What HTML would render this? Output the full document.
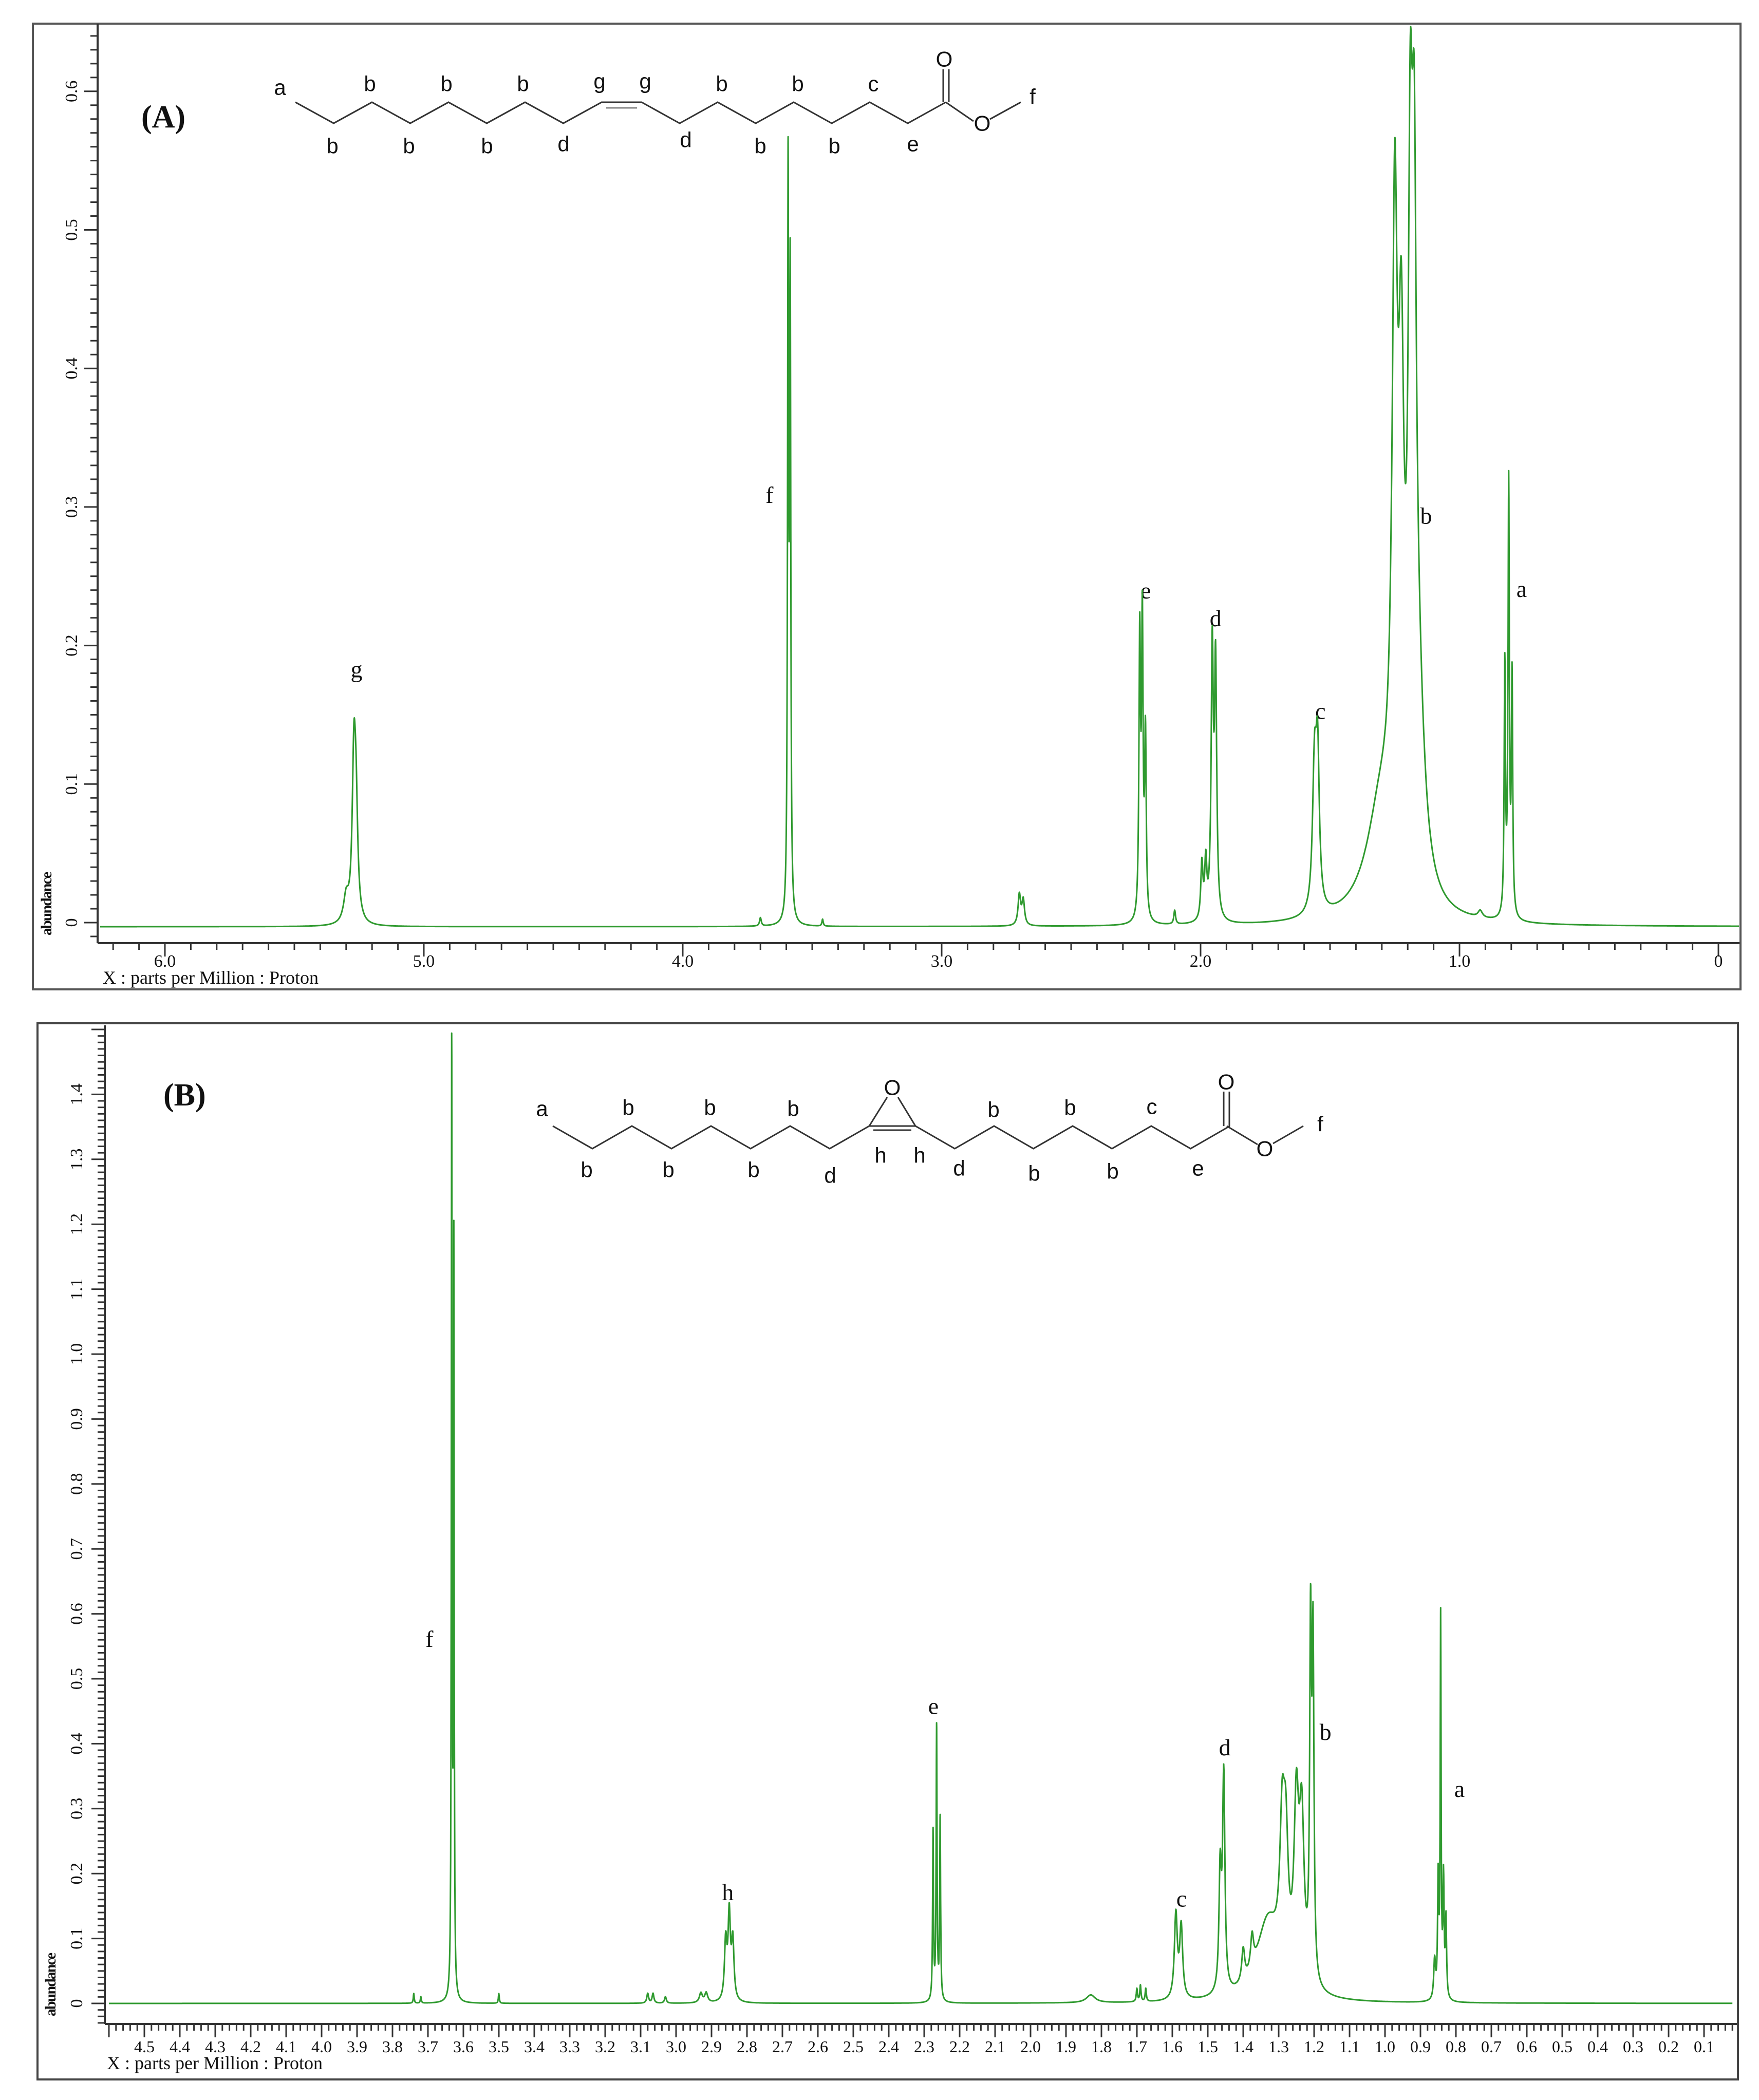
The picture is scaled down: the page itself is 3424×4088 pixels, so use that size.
<!DOCTYPE html>
<html><head><meta charset="utf-8"><style>
html,body{margin:0;padding:0;background:#fff;}
svg{display:block;}
.ser{font-family:"Liberation Serif",serif;fill:#111;}
.san{font-family:"Liberation Sans",sans-serif;fill:#111;}
</style></head><body>
<svg id="root" width="3424" height="4088" viewBox="0 0 3424 4088" xmlns="http://www.w3.org/2000/svg">
<rect x="0" y="0" width="3424" height="4088" fill="#fff"/>
<rect x="64" y="46" width="3324" height="1880" fill="none" stroke="#555" stroke-width="4"/>
<rect x="73" y="1992" width="3310" height="2056" fill="none" stroke="#444" stroke-width="4"/>
<text x="275" y="248" class="ser" font-size="62" font-weight="bold">(A)</text>
<text x="318" y="2152" class="ser" font-size="62" font-weight="bold">(B)</text>
<g id="axA"></g>
<g id="axB"></g>
<g id="structA"></g>
<g id="structB"></g>
<g id="specA"></g>
<g id="specB"></g>
</svg>
<script>
// ---- Panel A data (ppm, height, half-width) ----
const peaksA_ppm = [5.30,5.27,5.262, 3.70,3.593,3.585, 3.46, 2.70,2.685, 2.235,2.225,2.213, 2.10, 1.995,1.98,1.955,1.942, 1.56,1.548, 1.30,1.25,1.225,1.19,1.175,1.16, 0.92, 0.825,0.81,0.797];
const peaksA_h   = [0.018,0.11,0.07, 0.006,0.53,0.45, 0.005, 0.022,0.018, 0.20,0.21,0.13, 0.01, 0.04,0.04,0.19,0.18, 0.10,0.105, 0.08,0.43,0.30,0.40,0.36,0.12, 0.005, 0.18,0.31,0.17];
const peaksA_w   = [0.012,0.008,0.008, 0.004,0.0025,0.0025, 0.003, 0.006,0.006, 0.0035,0.0035,0.0035, 0.004, 0.005,0.005,0.005,0.005, 0.009,0.008, 0.07,0.012,0.012,0.01,0.01,0.03, 0.01, 0.003,0.003,0.003];
const ticksA_x = [6.0,5.0,4.0,3.0,2.0,1.0,0];
const ticksA_xlabels = ["6.0","5.0","4.0","3.0","2.0","1.0","0"];
const ticksA_y = [0,0.1,0.2,0.3,0.4,0.5,0.6];
const ticksA_ylabels = ["0","0.1","0.2","0.3","0.4","0.5","0.6"];
const labelsA_text = ["g","f","e","d","c","b","a"];
const labelsA_ppm  = [5.26,3.665,2.212,1.942,1.537,1.129,0.760];
const labelsA_val  = [0.177,0.303,0.234,0.214,0.147,0.288,0.235];

// ---- Panel B data ----
const peaksB_ppm = [3.74,3.72, 3.633,3.627, 3.50, 3.08,3.065,3.03, 2.93,2.915, 2.86,2.85,2.84, 2.275,2.265,2.255, 1.83, 1.70,1.69,1.675, 1.59,1.575, 1.465,1.455, 1.40,1.375, 1.33,1.29,1.28,1.25,1.235,1.21,1.203, 0.86,0.85,0.843,0.835,0.828];
const peaksB_h   = [0.015,0.01, 1.45,1.15, 0.015, 0.015,0.015,0.01, 0.015,0.015, 0.09,0.13,0.09, 0.26,0.42,0.28, 0.012, 0.02,0.025,0.02, 0.13,0.11, 0.18,0.33, 0.05,0.05, 0.12,0.20,0.18,0.26,0.24,0.52,0.50, 0.06,0.18,0.58,0.18,0.12];
const peaksB_w   = [0.0015,0.0015, 0.0012,0.0012, 0.0015, 0.003,0.003,0.003, 0.005,0.005, 0.004,0.004,0.004, 0.0015,0.0015,0.0015, 0.015, 0.002,0.002,0.002, 0.005,0.005, 0.004,0.004, 0.005,0.005, 0.04,0.008,0.008,0.008,0.008,0.003,0.003, 0.003,0.002,0.0015,0.002,0.002];
const ticksB_x = [4.5,4.4,4.3,4.2,4.1,4.0,3.9,3.8,3.7,3.6,3.5,3.4,3.3,3.2,3.1,3.0,2.9,2.8,2.7,2.6,2.5,2.4,2.3,2.2,2.1,2.0,1.9,1.8,1.7,1.6,1.5,1.4,1.3,1.2,1.1,1.0,0.9,0.8,0.7,0.6,0.5,0.4,0.3,0.2,0.1];
const ticksB_y = [0,0.1,0.2,0.3,0.4,0.5,0.6,0.7,0.8,0.9,1.0,1.1,1.2,1.3,1.4];
const labelsB_text = ["f","e","h","c","d","b","a"];
const labelsB_ppm  = [3.696,2.274,2.854,1.574,1.452,1.168,0.790];
const labelsB_val  = [0.549,0.446,0.159,0.149,0.382,0.406,0.318];

const NS="http://www.w3.org/2000/svg";
function mk(tag,attrs,parent){const e=document.createElementNS(NS,tag);for(const k in attrs)e.setAttribute(k,attrs[k]);parent.appendChild(e);return e;}

const xA = p => 321 + (6 - p) * 504;
const yA = v => 1796 - v * 2697;
const xB = p => 281 + (4.5 - p) * 690;
const yB = v => 3900 - v * 1264;

function drawSpectrum(g, ppm, h, w, xf, yf, pLeft, pRight, base){
  let xs=[];
  for(let p=pLeft;p>=pRight;p-=0.0008) xs.push(p);
  ppm.forEach(c=>xs.push(c));
  xs.sort((a,b)=>b-a);
  let d="";
  xs.forEach((p,i)=>{
    let s=base;
    for(let k=0;k<ppm.length;k++){const t=(p-ppm[k])/w[k];s+=h[k]/(1+t*t);}
    d+=(i?"L":"M")+xf(p).toFixed(1)+" "+yf(s).toFixed(1);
  });
  const path=mk("path",{d:d,fill:"none",stroke:"#2f9a2f","stroke-width":"3","stroke-linejoin":"round"},g);
  
  
}

function drawAxes(g, cfg){
  mk("line",{x1:cfg.ax,y1:cfg.yTop,x2:cfg.ax,y2:cfg.ay,stroke:"#333","stroke-width":"4"},g);
  mk("line",{x1:cfg.ax,y1:cfg.ay,x2:cfg.xEnd,y2:cfg.ay,stroke:"#333","stroke-width":"4"},g);
  for(let v=cfg.yMinV;v<=cfg.yMaxV+1e-9;v+=cfg.yMinor){
    const y=cfg.yf(v); if(y<cfg.yTop||y>cfg.ay) continue;
    const major=Math.abs(v/0.1-Math.round(v/0.1))<1e-6;
    mk("line",{x1:cfg.ax-(major?26:14),y1:y,x2:cfg.ax,y2:y,stroke:"#333","stroke-width":"3"},g);
  }
  cfg.yt.forEach((v,i)=>{
    const y=cfg.yf(v);
    const t=mk("text",{x:0,y:0,transform:`translate(${cfg.ylx},${y}) rotate(-90)`,"text-anchor":"middle",class:"ser","font-size":"34"},g);
    t.textContent=cfg.ytl[i];
    
    
  });
  for(let p=cfg.pL;p>=cfg.pR-1e-9;p-=cfg.xMinor){
    const x=cfg.xf(p); if(x<cfg.ax||x>cfg.xEnd) continue;
    const major=Math.abs(p/cfg.xMajor-Math.round(p/cfg.xMajor))<1e-6;
    mk("line",{x1:x,y1:cfg.ay,x2:x,y2:cfg.ay+(major?26:13),stroke:"#333","stroke-width":"3"},g);
  }
  cfg.xt.forEach((p,i)=>{
    const t=mk("text",{x:cfg.xf(p),y:cfg.xly,"text-anchor":"middle",class:"ser","font-size":cfg.xfs},g);
    t.textContent=cfg.xtl[i];
    
    
  });
  const xt=mk("text",{x:cfg.ttx,y:cfg.tty,class:"ser","font-size":"36"},g);
  xt.textContent="X : parts per Million : Proton";
  
  
  const yt=mk("text",{x:0,y:0,transform:`translate(${cfg.abx},${cfg.aby}) rotate(-90)`,"text-anchor":"middle",class:"ser","font-size":"30","font-weight":"bold","letter-spacing":"-2"},g);
  yt.textContent="abundance";
  
  
}

function drawPeakLabels(g, txt, ppm, val, xf, yf){
  txt.forEach((s,i)=>{
    const t=mk("text",{x:xf(ppm[i]),y:yf(val[i]),"text-anchor":"middle",class:"ser","font-size":"46"},g);
    t.textContent=s;
    
    
  });
}

const gA=document.getElementById("axA"), gB=document.getElementById("axB");
drawAxes(gA,{ax:190,ay:1836,yTop:46,xEnd:3386,yf:yA,xf:xA,yMinV:-0.03,yMaxV:0.66,yMinor:0.01,yt:ticksA_y,ytl:ticksA_ylabels,ylx:150,
  pL:6.2,pR:-0.1,xMinor:0.1,xMajor:1.0,xt:ticksA_x,xtl:ticksA_xlabels,xly:1882,xfs:34,ttx:200,tty:1915,abx:100,aby:1760});
drawAxes(gB,{ax:204,ay:3940,yTop:1996,xEnd:3381,yf:yB,xf:xB,yMinV:-0.03,yMaxV:1.5,yMinor:0.01,yt:ticksB_y,ytl:ticksB_y.map(v=>v===0?"0":v.toFixed(1)),ylx:160,
  pL:4.6,pR:0.0,xMinor:0.02,xMajor:0.1,xt:ticksB_x,xtl:ticksB_x.map(v=>v.toFixed(1)),xly:3995,xfs:32,ttx:208,tty:4028,abx:108,aby:3864});

drawSpectrum(document.getElementById("specA"),peaksA_ppm,peaksA_h,peaksA_w,xA,yA,6.25,-0.08,-0.003);
drawSpectrum(document.getElementById("specB"),peaksB_ppm,peaksB_h,peaksB_w,xB,yB,4.6,0.02,0.0);
drawPeakLabels(gA,labelsA_text,labelsA_ppm,labelsA_val,xA,yA);
drawPeakLabels(gB,labelsB_text,labelsB_ppm,labelsB_val,xB,yB);

function drawStruct(g, pts, extras, labels){
  let d="M"+pts.map(p=>p.join(" ")).join("L");
  mk("path",{d:d,fill:"none",stroke:"#333","stroke-width":"3"},g);
  extras.forEach(e=>mk("line",{x1:e[0],y1:e[1],x2:e[2],y2:e[3],stroke:e[4]||"#333","stroke-width":"3"},g));
  labels.forEach(l=>{
    const t=mk("text",{x:l[1],y:l[2],"text-anchor":"middle","dominant-baseline":"central",class:"san","font-size":"42"},g);
    t.textContent=l[0];
    
    
  });
}
(function(){
  const T=199,B=240,pts=[];
  for(let i=0;i<=8;i++) pts.push([575+74.5*i, i%2?B:T]);
  for(let i=9;i<=17;i++) pts.push([1249+74*(i-9), (i-9)%2?B:T]);
  const g=document.getElementById("structA");
  drawStruct(g,pts,[
    [1180,210,1240,210,"#888"],
    [1836,199,1836,135],[1847,199,1847,135],
    [1841,199,1895,236],[1927,232,1987,199]
  ],[
    ["a",545,170],["b",720,163],["b",869,163],["b",1018,163],["g",1167,158],["g",1256,158],["b",1405,163],["b",1553,163],["c",1700,163],
    ["b",647,284],["b",796,284],["b",948,284],["d",1097,280],["d",1335,272],["b",1480,284],["b",1624,284],["e",1777,280],
    ["O",1838,115],["O",1912,240],["f",2010,188]
  ]);
})();
(function(){
  const T=2192,Bt=2236,pts=[];
  for(let i=0;i<=8;i++) pts.push([1076+77*i, i%2?Bt:T]);
  for(let i=9;i<=17;i++) pts.push([1782+76.5*(i-9), (i-9)%2?Bt:T]);
  const g=document.getElementById("structB");
  drawStruct(g,pts,[
    [1692,2192,1727,2136],[1782,2192,1748,2136],[1700,2200,1774,2200],
    [2382,2192,2382,2125],[2393,2192,2393,2125],
    [2388,2192,2448,2228],[2478,2226,2537,2192]
  ],[
    ["a",1055,2158],["b",1223,2156],["b",1382,2156],["b",1544,2158],["O",1737,2117],["b",1934,2160],["b",2083,2156],["c",2242,2154],["O",2387,2106],["f",2570,2188],
    ["b",1142,2277],["b",1301,2277],["b",1467,2277],["d",1616,2288],["h",1714,2249],["h",1790,2249],["d",1867,2274],["b",2013,2284],["b",2166,2280],["e",2332,2274],
    ["O",2462,2236]
  ]);
})();
</script>
</body></html>
